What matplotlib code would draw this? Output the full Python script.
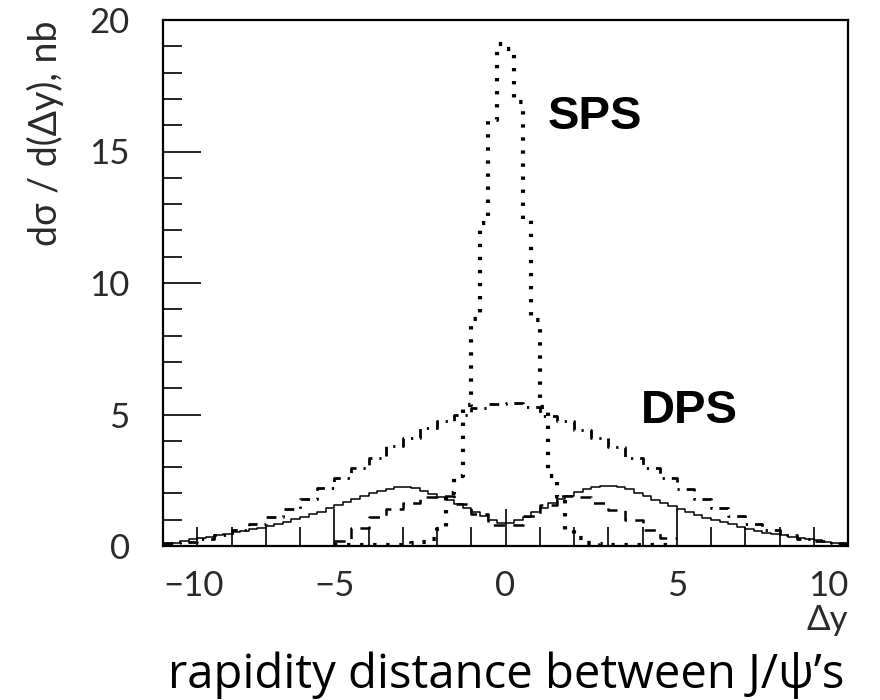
import numpy as np
import matplotlib
matplotlib.use('Agg')
import matplotlib.pyplot as plt

plt.rcParams['lines.scale_dashes'] = False

# ---- data ----
# solid histogram, 0.25 wide bins on [-10, 10]
solid_edges = np.arange(-10, 10.001, 0.25)
solid_vals = [0.06, 0.12, 0.18, 0.25, 0.31, 0.36, 0.41, 0.47, 0.52, 0.58,
              0.64, 0.70, 0.77, 0.85, 0.93, 1.01, 1.10, 1.20, 1.31, 1.43,
              1.55, 1.66, 1.77, 1.89, 2.00, 2.10, 2.18, 2.24, 2.25, 2.20,
              2.10, 1.96, 1.85, 1.74, 1.60, 1.45, 1.30, 1.14, 1.00, 0.88,
              0.87, 0.98, 1.12, 1.30, 1.46, 1.62, 1.78, 1.92, 2.04, 2.15,
              2.23, 2.28, 2.27, 2.23, 2.15, 2.02, 1.90, 1.76, 1.63, 1.52,
              1.42, 1.30, 1.18, 1.08, 1.00, 0.91, 0.82, 0.74, 0.66, 0.58,
              0.51, 0.45, 0.40, 0.35, 0.31, 0.26, 0.21, 0.16, 0.11, 0.06]

# dash-dot histogram (DPS sum), 0.5 wide bins on [-10, 10]
dps_edges = np.arange(-10, 10.001, 0.5)
dps_vals = [0.10, 0.17, 0.27, 0.42, 0.60, 0.83, 1.10, 1.40, 1.78, 2.20,
            2.60, 2.95, 3.35, 3.80, 4.10, 4.50, 4.75, 5.00, 5.25, 5.40,
            5.42, 5.30, 4.95, 4.75, 4.40, 4.10, 3.75, 3.35, 2.95, 2.60,
            2.15, 1.80, 1.45, 1.15, 0.85, 0.60, 0.42, 0.28, 0.20, 0.10]

# dashed histogram, 0.5 wide bins on [-5, 5]
dash_edges = np.arange(-5, 5.001, 0.5)
dash_vals = [0.20, 0.70, 1.10, 1.40, 1.65, 1.85, 1.90, 1.60, 1.20, 0.80,
             0.80, 1.15, 1.55, 1.90, 1.85, 1.65, 1.35, 1.00, 0.60, 0.30]

# dotted histogram (SPS), 0.25 wide bins on [-5, 5]
sps_edges = np.arange(-5, 5.001, 0.25)
sps_vals = [0.04, 0.04, 0.04, 0.04, 0.04, 0.04, 0.04, 0.04, 0.06, 0.10,
            0.14, 0.28, 0.65, 2.00, 2.65, 5.35, 8.65, 12.3, 16.2, 19.1,
            18.9, 16.9, 12.4, 8.6, 5.3, 2.65, 1.85, 0.62, 0.30, 0.12,
            0.10, 0.07, 0.04, 0.04, 0.04, 0.04, 0.04, 0.04, 0.04, 0.04]

xticks = [-10, -5, 0, 5, 10]
yticks = [0, 5, 10, 15, 20]

tickfont = dict(family=['Lato', 'DejaVu Sans'], color='#2a2a2a')

fig = plt.figure(figsize=(8.8, 7), dpi=100)
ax = fig.add_axes([163/880, 1-546/700, (848-163)/880, (546-20)/700])

def hist(edges, vals, **kw):
    x = np.repeat(edges, 2)[1:-1]
    y = np.repeat(vals, 2)
    ax.plot(x, y, color='black', **kw)

hist(solid_edges, solid_vals, lw=1.1)
hist(dps_edges, dps_vals, lw=2.0, dashes=(7, 5, 1.6, 5))
hist(dash_edges, dash_vals, lw=1.8, dashes=(8, 6))
hist(sps_edges, sps_vals, lw=3.0, dashes=(2.4, 7))

ax.set_xlim(-10, 10)
ax.set_ylim(0, 20)
ax.set_xticks(xticks)
ax.set_yticks(yticks)
ax.set_xticks(np.arange(-10, 11, 1), minor=True)
ax.set_yticks(np.arange(0, 21, 1), minor=True)
ax.tick_params(which='major', direction='in', length=27, width=1.2,
               top=False, right=False)
ax.tick_params(which='minor', direction='in', length=13.5, width=1.2,
               top=False, right=False)
ax.tick_params(axis='x', pad=17)
ax.tick_params(axis='y', pad=24)
ax.set_xticklabels(['\u221210', '\u22125', '0', '5', '10'], fontsize=25, **tickfont)
ax.set_yticklabels([str(v) for v in yticks], fontsize=25, **tickfont)
xl = ax.get_xticklabels()
xl[0].set_ha('left')
xl[-1].set_ha('right')
for s in ax.spines.values():
    s.set_linewidth(1.6)

ax.text(1.22, 16.3, 'SPS', fontsize=34, fontweight='bold',
        family='Liberation Sans', ha='left', va='center')
ax.text(3.96, 5.15, 'DPS', fontsize=34, fontweight='bold',
        family='Liberation Sans', ha='left', va='center')

fig.text(45/880, 1-20/700, 'd\u03c3 / d(\u0394y), nb', rotation=90,
         ha='center', va='top', fontsize=27, **tickfont)
fig.text(848/880, 1-620/700, '\u0394y', ha='right', va='center',
         fontsize=25, **tickfont)
fig.text(506/880, 1-688/700, 'rapidity distance between J/\u03c8\u2019s',
         ha='center', va='baseline', fontsize=34, family=['Open Sans', 'DejaVu Sans'])

fig.savefig('out.png', dpi=100)
